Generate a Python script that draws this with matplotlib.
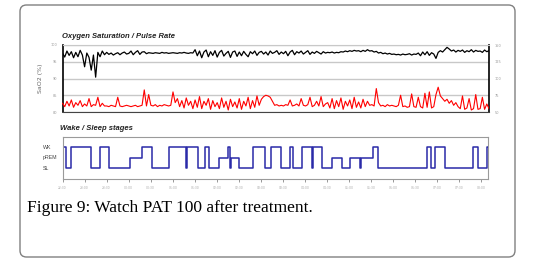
import numpy as np
import matplotlib
matplotlib.use("Agg")
from matplotlib import pyplot as plt
from matplotlib.patches import FancyBboxPatch

# SaO2 (%) sampled every 3 minutes (0.05 h) over the night
sao2 = [97.6, 96.4, 98.2, 96.9, 98.0, 96.2, 97.8, 96.5, 98.4, 97.0,
        93.5, 97.6, 96.3, 92.5, 97.0, 90.4, 97.8, 96.5, 98.2, 97.1,
        97.8, 97.2, 97.6, 97.0, 97.4, 97.7, 97.1, 97.6, 97.9, 97.3,
        97.5, 98.2, 97.1, 97.8, 98.3, 97.2, 97.9, 98.0, 97.4, 97.7,
        97.6, 97.5, 97.7, 97.6, 97.5, 97.8, 97.6, 97.7, 97.5, 97.6,
        97.7, 97.6, 97.5, 97.7, 97.6, 97.8, 97.6, 97.5, 97.7, 97.6,
        98.6, 96.8, 98.2, 96.2, 97.9, 98.5, 96.5, 98.0, 96.9, 98.3,
        96.4, 97.8, 98.4, 96.7, 97.5, 98.1, 96.3, 97.9, 98.2, 96.6,
        97.9, 96.8, 98.1, 97.2, 96.5, 98.0, 97.4, 98.2, 96.9, 97.8,
        98.1, 97.3, 97.9, 97.0, 98.2, 97.5, 97.8, 98.3, 97.2, 97.9,
        97.4, 98.1, 96.8, 97.9, 98.4, 97.1, 98.0, 97.6, 98.2, 97.3,
        97.8, 98.3, 97.2, 97.9, 97.5, 98.1, 97.7, 97.3, 98.0, 97.6,
        97.8, 97.7, 97.9, 97.6, 97.8, 97.7, 98.0, 97.9, 98.2, 98.0,
        98.3, 98.1, 98.4, 98.2, 98.3, 98.0, 98.4, 98.1, 98.6, 98.2,
        98.3, 97.9, 98.1, 97.6, 97.8, 97.4, 97.6, 97.3, 97.5, 97.2,
        97.3, 97.1, 97.2, 97.0, 97.3, 97.1, 97.2, 97.4, 97.0, 97.3,
        97.2, 97.6, 96.8, 97.9, 97.1, 98.0, 96.9, 97.7, 97.3, 96.0,
        97.8, 98.3, 97.9, 98.6, 99.3, 98.8, 98.2, 98.5, 97.9, 98.4,
        98.1, 98.5, 97.8, 98.3, 98.0, 98.6, 97.9, 98.4, 98.1, 98.2,
        97.8, 98.5, 98.0, 98.3]

# pulse rate (bpm), same sampling
pulse = [63, 58, 66, 59, 68, 57, 64, 60, 67, 58,
         62, 59, 70, 58, 61, 60, 72, 58, 63, 59,
         59, 58, 60, 59, 58, 72, 59, 58, 59, 60,
         59, 58, 59, 60, 58, 59, 60, 83, 59, 76,
         60, 59, 61, 58, 60, 59, 61, 60, 59, 60,
         80, 64, 70, 58, 67, 56, 71, 60, 66, 55,
         68, 57, 73, 55, 66, 60, 70, 54, 67, 58,
         64, 55, 71, 57, 66, 53, 69, 58, 65, 56,
         70, 54, 66, 59, 72, 55, 67, 57, 74, 60,
         69, 73, 75, 74, 72, 66, 60, 61, 59, 60,
         59, 61, 60, 68, 59, 60, 62, 59, 70, 60,
         59, 61, 72, 58, 60, 66, 59, 73, 58, 62,
         64, 56, 70, 55, 67, 58, 71, 54, 66, 59,
         68, 55, 72, 57, 65, 56, 69, 58, 66, 60,
         61, 59, 85, 64, 59, 60, 58, 61, 59, 60,
         59, 58, 60, 75, 58, 59, 57, 58, 77, 58,
         57, 72, 58, 56, 78, 57, 80, 56, 58, 76,
         87, 74, 70, 66, 69, 63, 67, 60, 64, 58,
         55, 74, 54, 56, 70, 53, 55, 76, 54, 55,
         72, 54, 62, 55]

# sleep stages: start time of each stage (hours from start) and the stage
stage_start = [0.0, 0.075, 0.2, 0.645, 0.845, 1.045, 1.52, 1.8, 2.02, 2.41,
               2.79, 2.82, 3.07, 3.23, 3.32, 3.56, 3.76, 3.79, 3.82, 4.0,
               4.33, 4.59, 4.725, 4.95, 5.16, 5.22, 5.425, 5.65, 5.67, 5.89,
               6.115, 6.33, 6.51, 6.75, 6.78, 7.045, 7.15, 8.27, 8.36, 8.445,
               8.685, 9.305, 9.415, 9.625]
stage = ["WK", "SL", "WK", "SL", "WK", "SL", "pREM", "WK", "SL", "WK",
         "SL", "WK", "SL", "WK", "SL", "pREM", "WK", "SL", "pREM", "SL",
         "WK", "SL", "WK", "SL", "WK", "SL", "WK", "SL", "WK", "SL",
         "pREM", "SL", "pREM", "SL", "pREM", "WK", "SL", "WK", "SL", "WK",
         "SL", "WK", "SL", "WK"]
stage_names = ["SL", "pREM", "WK"]
t_end = 9.65

time_labels = ["22:30", "23:00", "23:30", "00:00", "00:30", "01:00", "01:30",
               "02:00", "02:30", "03:00", "03:30", "04:00", "04:30", "05:00",
               "05:30", "06:00", "06:30", "07:00", "07:30", "08:00"]

W, H = 542, 271
fig = plt.figure(figsize=(W / 100, H / 100), dpi=100)


def box(x0, y0, x1, y1):
    # pixel box -> figure fraction [left, bottom, width, height]
    return [x0 / W, 1 - y1 / H, (x1 - x0) / W, (y1 - y0) / H]


# outer rounded frame
frame = FancyBboxPatch((20 / W, 1 - 257 / H), 495 / W, 252 / H,
                       boxstyle="round,pad=0,rounding_size=0.012",
                       mutation_aspect=W / H, transform=fig.transFigure,
                       facecolor="none", edgecolor="#808080", linewidth=1.0)
fig.patches.append(frame)

t = np.linspace(0, t_end, len(sao2))

# top panel: oxygen saturation / pulse rate
ax = fig.add_axes(box(62.5, 45, 489, 112))
ax.plot(t, sao2, color="black", linewidth=0.9)
ax.set_xlim(0, t_end)
ax.set_ylim(80, 100)
ax.set_yticks([80, 85, 90, 95, 100])
ax.tick_params(axis="y", labelsize=2.5, labelcolor="#999999", length=0, pad=4)
ax.set_xticks([])
ax.grid(axis="y", color="#c8c8c8", linewidth=1.0)
ax.set_ylabel("SaO2 (%)", fontsize=4.5, color="#666666", labelpad=5)
for side in ["left", "right"]:
    ax.spines[side].set_color("black")
    ax.spines[side].set_linewidth(1.2)
ax.spines["top"].set_color("#c8c8c8")
ax.spines["bottom"].set_color("#444444")

ax2 = ax.twinx()
ax2.plot(t, pulse, color="red", linewidth=0.8)
ax2.set_ylim(50, 150)
ax2.set_yticks([50, 75, 100, 125, 150])
ax2.tick_params(axis="y", labelsize=2.5, labelcolor="#999999", length=0, pad=4)
for s in ax2.spines.values():
    s.set_visible(False)

fig.text(62 / W, 1 - 36 / H, "Oxygen Saturation / Pulse Rate", fontsize=5.5,
         fontweight="bold", fontstyle="italic", color="#222222",
         family="Liberation Sans", va="center")

# bottom panel: wake / sleep stages
bx = fig.add_axes(box(62.5, 137, 488, 179))
levels = [stage_names.index(s) for s in stage] + [stage_names.index(stage[-1])]
bx.step(stage_start + [t_end], levels, where="post", color="#2a2aa8", linewidth=1.1)
bx.set_xlim(0, t_end)
bx.set_ylim(-1.0, 2.95)
bx.set_yticks([])
bx.set_xticks(np.arange(len(time_labels)) * 0.5, time_labels)
bx.tick_params(axis="x", labelsize=2.2, labelcolor="#aaaaaa", color="#888888",
               length=2, width=0.6, pad=3)
for s in bx.spines.values():
    s.set_color("#9a9a9a")
    s.set_linewidth(0.8)
for i, name in enumerate(stage_names):
    bx.text(-0.046, i, name, transform=bx.get_yaxis_transform(), fontsize=3.8,
            color="#444444", ha="left", va="center", family="Liberation Sans")

fig.text(60 / W, 1 - 129 / H, "Wake / Sleep stages", fontsize=5.5,
         fontweight="bold", fontstyle="italic", color="#222222",
         family="Liberation Sans", va="center")

fig.text(27 / W, 1 - 212 / H, "Figure 9: Watch PAT 100 after treatment.",
         fontsize=12.5, family="Liberation Serif", color="black", va="baseline")

fig.savefig("out.png", dpi=100)
